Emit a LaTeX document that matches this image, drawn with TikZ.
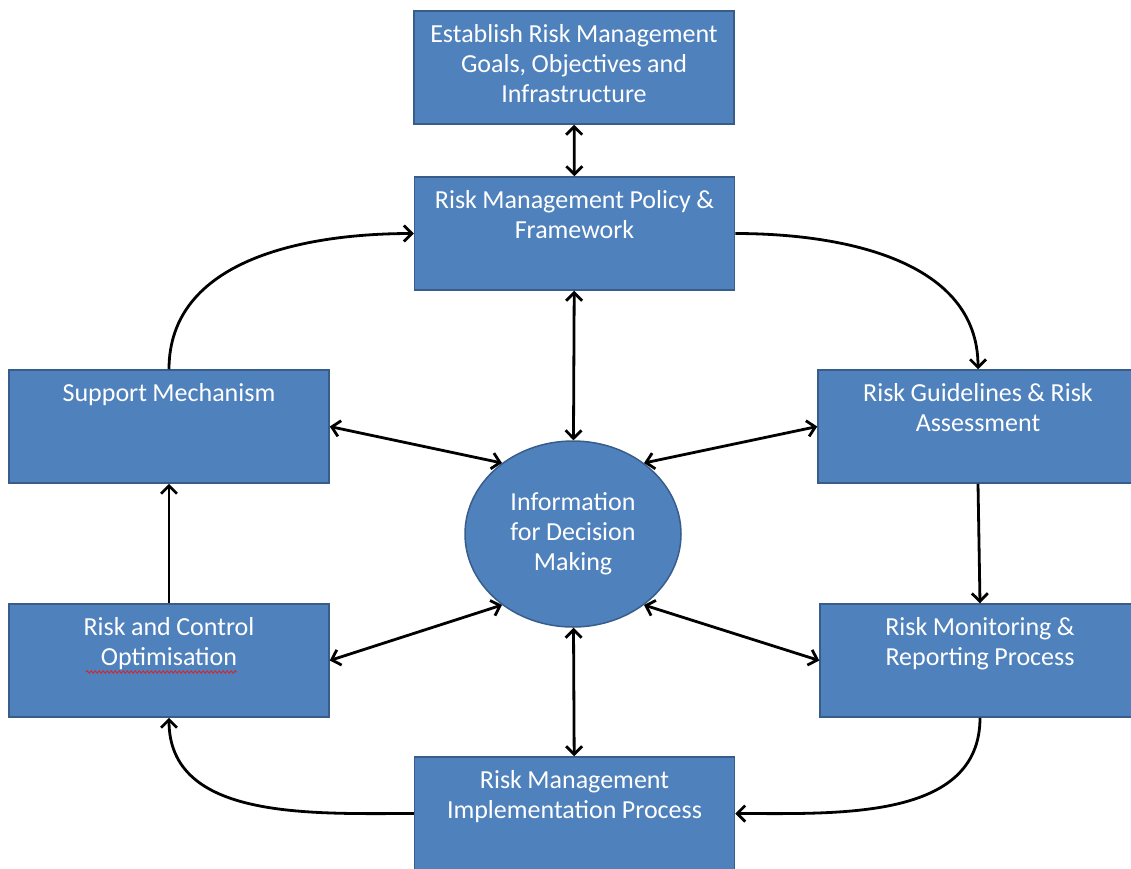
\documentclass[tikz,border=0pt]{standalone}
\usepackage{fontspec}
\setmainfont{Carlito}
\usetikzlibrary{shapes.geometric,arrows.meta,decorations.pathmorphing}
\definecolor{boxblue}{HTML}{4F81BD}
\definecolor{boxedge}{HTML}{385D8A}
\definecolor{squiggle}{HTML}{E0201B}

\begin{document}
\begin{tikzpicture}[x=1pt,y=-1pt,
    riskbox/.style={rectangle,fill=boxblue,draw=boxedge,line width=1.5pt,text=white,
      minimum width=320pt,minimum height=113pt,text width=310pt,align=center,
      inner ysep=9pt,text height=22pt,text depth=73pt},
    infocircle/.style={ellipse,fill=boxblue,draw=boxedge,line width=1.5pt,text=white,
      minimum width=216pt,minimum height=186pt,align=center,inner sep=0pt},
    flow/.style={line width=2.8pt,-{Straight Barb[length=8pt,width=16pt]}},
    both/.style={line width=2.8pt,{Straight Barb[length=8pt,width=16pt]}-{Straight Barb[length=8pt,width=16pt]}},
    every node/.style={font=\fontsize{26pt}{30pt}\selectfont,
      execute at begin node={\spaceskip=0.21em\relax}}]
  \useasboundingbox (0,0) rectangle (1131,868);

  \node[riskbox] (est) at (574,67.5) {Establish Risk Management\\Goals, Objectives and\\Infrastructure};
  \node[riskbox] (pol) at (574.5,233.5) {Risk Management Policy \&\\Framework};
  \node[riskbox] (sup) at (169,426.5) {Support Mechanism};
  \node[riskbox] (gdl) at (978,426.5) {Risk Guidelines \& Risk\\Assessment};
  \node[riskbox] (rco) at (169,660.5) {Risk and Control\\Optimisation};
  \node[riskbox] (mon) at (980,660.5) {Risk Monitoring \&\\Reporting Process};
  \node[riskbox] (imp) at (574.5,813.5) {Risk Management\\Implementation Process};
  \node[infocircle] (dec) at (573,534) {Information\\for Decision\\Making};

  % spell-check mark under Optimisation
  \draw[squiggle,line width=0.8pt,decorate,decoration={snake,amplitude=1.2pt,segment length=4pt}]
    (86,672) -- (237,672);

  \draw[both] (est) -- (pol);
  \draw[both] (pol) -- (dec);
  \draw[both] (dec) -- (imp);
  \draw[both] (sup.east) -- (dec.135);
  \draw[both] (gdl.west) -- (dec.45);
  \draw[both] (rco.east) -- (dec.225);
  \draw[both] (mon.west) -- (dec.315);

  \draw[flow] (sup.north) to[out=90,in=180] (pol.west);
  \draw[flow] (pol.east) to[out=0,in=90] (gdl.north);
  \draw[flow] (gdl.south) -- (mon.north);
  \draw[flow] (mon.south) to[out=-90,in=0] (imp.east);
  \draw[flow] (imp.west) to[out=180,in=-90] (rco.south);
  \draw[flow] (rco.north) -- (sup.south);
\end{tikzpicture}
\end{document}
